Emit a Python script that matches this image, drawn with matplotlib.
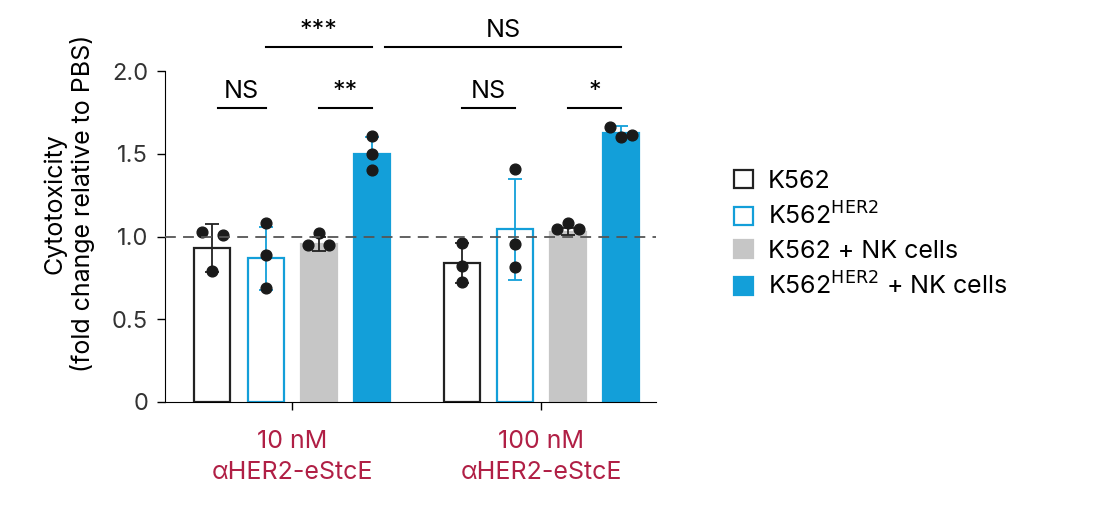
import matplotlib.pyplot as plt
import numpy as np

plt.rcParams['font.family'] = 'Inter'

groups = ['10 nM\nαHER2-eStcE', '100 nM\nαHER2-eStcE']
series = ['K562', 'K562$^{\\mathrm{HER2}}$', 'K562 + NK cells', 'K562$^{\\mathrm{HER2}}$ + NK cells']
means = [[0.93, 0.84], [0.87, 1.045], [0.955, 1.03], [1.50, 1.625]]
errs = [[0.145, 0.12], [0.19, 0.305], [0.04, 0.02], [0.10, 0.045]]
points = [
    [[1.03, 1.01, 0.79], [0.96, 0.82, 0.725]],
    [[1.08, 0.89, 0.69], [1.41, 0.955, 0.815]],
    [[0.95, 1.02, 0.95], [1.045, 1.08, 1.045]],
    [[1.61, 1.50, 1.40], [1.66, 1.60, 1.615]],
]
jitter = [[[-0.3, 0.3, 0], [0, 0, 0]], [[0, 0, 0], [0, 0, 0]],
          [[-0.3, 0, 0.3], [-0.3, 0, 0.3]], [[0, 0, 0], [-0.3, 0, 0.3]]]
blue = '#139fd9'
gray = '#c6c6c6'
red = '#b01f45'
face = ['white', 'white', gray, blue]
edge = ['#222222', blue, gray, blue]

fig = plt.figure(figsize=(10.98, 5.05), dpi=100)
ax = fig.add_axes([0.15, 0.204, 0.447, 0.786])

w = 36 / 53
gx = np.array([0, 249 / 53])
offs = np.array([-1.5, -0.5, 0.5, 1.5])
for i in range(4):
    x = gx + offs[i]
    ax.bar(x, means[i], width=w, color=face[i], edgecolor=edge[i], linewidth=1.6, zorder=2)
    ax.errorbar(x, means[i], yerr=errs[i], fmt='none', ecolor=edge[i] if i != 2 else '#222222',
                elinewidth=1.3, capsize=5, capthick=1.3, zorder=3)
    for g in range(2):
        ax.scatter(x[g] + np.array(jitter[i][g]) * w, points[i][g], s=60, color='#1a1a1a', zorder=4)

ax.axhline(1.0, color='#555555', ls=(0, (6, 4)), lw=1.3, zorder=5)
ax.set_xlim(gx[0] - 2.4, gx[1] + 2.15)
ax.set_ylim(0, 2.4)
ax.spines['left'].set_bounds(0, 2)
for s in ['top', 'right']:
    ax.spines[s].set_visible(False)
ax.set_yticks([0, 0.5, 1.0, 1.5, 2.0])
ax.set_yticklabels(['0', '0.5', '1.0', '1.5', '2.0'], fontsize=17, color='#333333')
ax.set_xticks(gx)
ax.set_xticklabels(groups, fontsize=18, color=red, linespacing=1.45)
ax.tick_params(axis='y', length=6, width=1, pad=6)
ax.tick_params(axis='x', length=6, width=1, pad=14)
ax.set_ylabel('Cytotoxicity\n(fold change relative to PBS)', fontsize=18, labelpad=12)

def sig(x1, x2, y, text):
    ax.plot([x1, x2], [y, y], color='black', lw=1.5, clip_on=False)
    ax.text((x1 + x2) / 2, y + 0.03, text, ha='center', va='bottom', fontsize=18)

sig(gx[0] - 1.4, gx[0] - 0.5, 1.78, 'NS')
sig(gx[0] + 0.5, gx[0] + 1.5, 1.78, '**')
sig(gx[0] - 0.5, gx[0] + 1.5, 2.145, '***')
sig(gx[0] + 1.75, gx[1] + 1.5, 2.145, 'NS')
sig(gx[1] - 1.5, gx[1] - 0.5, 1.78, 'NS')
sig(gx[1] + 0.5, gx[1] + 1.5, 1.78, '*')

handles = [plt.Rectangle((0, 0), 1, 1, facecolor=face[i], edgecolor=edge[i], linewidth=1.6) for i in range(4)]
fig.legend(handles, series, loc='center left', bbox_to_anchor=(0.648, 0.535), frameon=False,
           fontsize=18, handlelength=0.75, handleheight=0.75, labelspacing=0.4, handletextpad=0.6)

fig.savefig('out.png', dpi=100)
